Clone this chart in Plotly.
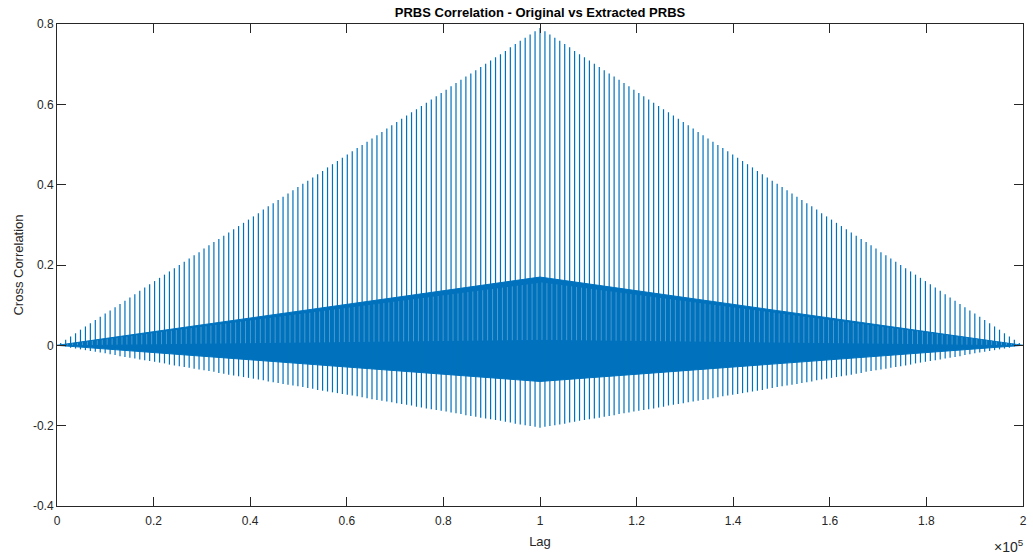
import numpy as np
import plotly.graph_objects as go

# Cross-correlation of the original PRBS against the extracted PRBS.
# The sequence repeats every 1023 samples, so the correlation shows a
# comb of peaks spaced by one period around the zero-shift lag.
total_lags = 200000
center_lag = 100000
spike_period = 1023

# Peak values, from the centre peak outwards (same on both sides)
peak_top = [
    0.790, 0.782, 0.774, 0.766, 0.758, 0.750, 0.742, 0.733, 0.725, 0.717,
    0.709, 0.701, 0.693, 0.685, 0.677, 0.669, 0.661, 0.653, 0.645, 0.636,
    0.628, 0.620, 0.612, 0.604, 0.596, 0.588, 0.580, 0.572, 0.564, 0.556,
    0.548, 0.540, 0.531, 0.523, 0.515, 0.507, 0.499, 0.491, 0.483, 0.475,
    0.467, 0.459, 0.451, 0.443, 0.434, 0.426, 0.418, 0.410, 0.402, 0.394,
    0.386, 0.378, 0.370, 0.362, 0.354, 0.346, 0.338, 0.329, 0.321, 0.313,
    0.305, 0.297, 0.289, 0.281, 0.273, 0.265, 0.257, 0.249, 0.241, 0.232,
    0.224, 0.216, 0.208, 0.200, 0.192, 0.184, 0.176, 0.168, 0.160, 0.152,
    0.144, 0.136, 0.127, 0.119, 0.111, 0.103, 0.095, 0.087, 0.079, 0.071,
    0.063, 0.055, 0.047, 0.039, 0.030, 0.022, 0.014, 0.006,
]

# Deepest negative excursion next to each peak, from the centre outwards
peak_bottom = [
    -0.205, -0.203, -0.201, -0.199, -0.197, -0.195, -0.192, -0.190, -0.188, -0.186,
    -0.184, -0.182, -0.180, -0.178, -0.176, -0.174, -0.171, -0.169, -0.167, -0.165,
    -0.163, -0.161, -0.159, -0.157, -0.155, -0.153, -0.150, -0.148, -0.146, -0.144,
    -0.142, -0.140, -0.138, -0.136, -0.134, -0.132, -0.129, -0.127, -0.125, -0.123,
    -0.121, -0.119, -0.117, -0.115, -0.113, -0.111, -0.108, -0.106, -0.104, -0.102,
    -0.100, -0.098, -0.096, -0.094, -0.092, -0.090, -0.087, -0.085, -0.083, -0.081,
    -0.079, -0.077, -0.075, -0.073, -0.071, -0.069, -0.066, -0.064, -0.062, -0.060,
    -0.058, -0.056, -0.054, -0.052, -0.050, -0.048, -0.045, -0.043, -0.041, -0.039,
    -0.037, -0.035, -0.033, -0.031, -0.029, -0.027, -0.024, -0.022, -0.020, -0.018,
    -0.016, -0.014, -0.012, -0.010, -0.008, -0.006, -0.003, -0.001,
]

# Envelope of the dense off-peak correlation floor
band_lag = [0, 100000, 200000, 100000, 0]
band_val = [0.0, 0.170, 0.0, -0.090, 0.0]
band_top_center = 0.170

x_ticks = [0, 20000, 40000, 60000, 80000, 100000, 120000, 140000, 160000, 180000, 200000]
x_tick_text = ["0", "0.2", "0.4", "0.6", "0.8", "1", "1.2", "1.4", "1.6", "1.8", "2"]
y_ticks = [-0.4, -0.2, 0.0, 0.2, 0.4, 0.6, 0.8]
y_tick_text = ["-0.4", "-0.2", "0", "0.2", "0.4", "0.6", "0.8"]

LINE_BLUE = "#0072BD"
AXIS_GRAY = "#262626"
FONT = "Liberation Sans, Arial, Helvetica, sans-serif"

# Build the comb: one vertical stroke per period on each side of the centre
sx, sy = [], []
gx, gy = [], []
for k, (top, bot) in enumerate(zip(peak_top, peak_bottom)):
    sides = [center_lag] if k == 0 else [center_lag - k * spike_period, center_lag + k * spike_period]
    # thin lighter columns inside the floor, just after each peak
    floor_top = band_top_center * (1 - k * spike_period / center_lag)
    for lag in sides:
        sx += [lag, lag, None]
        sy += [bot, top, None]
        gl = lag + 0.4 * spike_period
        gx += [gl, gl, None]
        gy += [0.08 * floor_top, 0.92 * floor_top, None]

fig = go.Figure()
fig.add_trace(go.Scatter(
    x=band_lag, y=band_val, mode="lines", fill="toself",
    fillcolor=LINE_BLUE, line=dict(color=LINE_BLUE, width=1),
    hoverinfo="skip", showlegend=False,
))
fig.add_trace(go.Scatter(
    x=gx, y=gy, mode="lines",
    line=dict(color="rgba(255,255,255,0.28)", width=1),
    hoverinfo="skip", showlegend=False,
))
fig.add_trace(go.Scatter(
    x=sx, y=sy, mode="lines",
    line=dict(color=LINE_BLUE, width=1.2),
    showlegend=False,
))

fig.update_layout(
    width=1033, height=554,
    margin=dict(l=57, r=10, t=24, b=48),
    paper_bgcolor="white", plot_bgcolor="white",
    font=dict(family=FONT, size=12, color=AXIS_GRAY),
    title=dict(
        text="<b>PRBS Correlation - Original vs Extracted PRBS</b>",
        x=0.5, xref="paper", xanchor="center",
        y=1, yref="paper", yanchor="bottom", pad=dict(b=7),
        font=dict(family=FONT, size=13, color="black"),
    ),
    xaxis=dict(
        range=[0, total_lags], tickvals=x_ticks, ticktext=x_tick_text,
        ticks="inside", ticklen=9, tickcolor=AXIS_GRAY, tickwidth=1,
        showline=True, linecolor=AXIS_GRAY, linewidth=1, mirror="ticks",
        showgrid=False, zeroline=False, ticklabelstandoff=4, automargin=False,
        title=dict(text="Lag", standoff=9, font=dict(size=13)),
        tickfont=dict(size=12, color=AXIS_GRAY),
    ),
    yaxis=dict(
        range=[-0.4, 0.8], tickvals=y_ticks, ticktext=y_tick_text,
        ticks="inside", ticklen=9, tickcolor=AXIS_GRAY, tickwidth=1,
        showline=True, linecolor=AXIS_GRAY, linewidth=1, mirror="ticks",
        showgrid=False, zeroline=False, automargin=False,
        title=dict(text="Cross Correlation", standoff=6, font=dict(size=13)),
        tickfont=dict(size=12, color=AXIS_GRAY),
    ),
)

fig.add_annotation(
    text="×10<sup>5</sup>", xref="paper", yref="paper",
    x=1, y=0, xanchor="right", yanchor="top", yshift=-29, xshift=3,
    showarrow=False, font=dict(family=FONT, size=14, color=AXIS_GRAY),
)

fig.write_html("out.html")
